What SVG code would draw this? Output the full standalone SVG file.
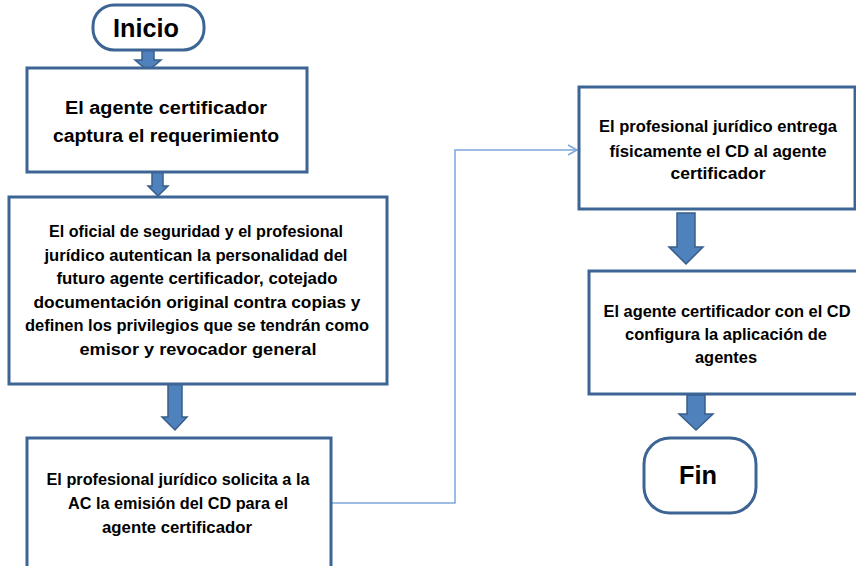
<svg xmlns="http://www.w3.org/2000/svg" width="856" height="566" viewBox="0 0 856 566">
<defs>
<style>
.box{fill:#fff;stroke:#3C6494;stroke-width:3}
.blk{fill:#4F81BD;stroke:#385D8A;stroke-width:1.5}
.t{font-family:"Liberation Sans",Arial,sans-serif;font-weight:bold;fill:#000;text-anchor:middle}
.s16{font-size:16px}
.s18{font-size:18px}
.big{font-size:26px}
.con{fill:none;stroke:#7EA6DA;stroke-width:1.5}
</style>
<marker id="open" markerWidth="12" markerHeight="12" refX="10" refY="6" orient="auto" markerUnits="userSpaceOnUse">
<path d="M1,1 L10,6 L1,11" fill="none" stroke="#7EA6DA" stroke-width="1.5"/>
</marker>
</defs>
<rect width="856" height="566" fill="#fff"/>
<g id="connectors">
<path class="con" d="M332,503 H455 V150 H577" marker-end="url(#open)"/>
<polygon class="blk" points="142,50 154,50 154,60 161,60 148,71 135,60 142,60"/>
<polygon class="blk" points="152,172 163,172 163,186 168,186 158,196 148,186 152,186"/>
<polygon class="blk" points="168,384 182,384 182,417 187,417 175,430 162,417 168,417"/>
<polygon class="blk" points="677,213 695,213 695,247 703,247 686,264 669,247 677,247"/>
<polygon class="blk" points="687,395 705,395 705,414 713,414 696,430 679,414 687,414"/>
</g>
<g id="inicio">
<rect class="box" x="93" y="5" width="111" height="45" rx="21"/>
<text class="t big" x="146" y="37" textLength="66" lengthAdjust="spacingAndGlyphs">Inicio</text>
</g>
<g id="captura">
<rect class="box" x="27" y="68" width="280" height="104"/>
<text class="t s18" x="166" y="114" textLength="202" lengthAdjust="spacingAndGlyphs">El agente certificador</text>
<text class="t s18" x="166" y="142" textLength="226" lengthAdjust="spacingAndGlyphs">captura el requerimiento</text>
</g>
<g id="autentican">
<rect class="box" x="9" y="197" width="378" height="187"/>
<text class="t s16" x="196" y="237" textLength="294" lengthAdjust="spacingAndGlyphs">El oficial de seguridad y el profesional</text>
<text class="t s16" x="196" y="261" textLength="303" lengthAdjust="spacingAndGlyphs">jurídico autentican la personalidad del</text>
<text class="t s16" x="197" y="284" textLength="281" lengthAdjust="spacingAndGlyphs">futuro agente certificador, cotejado</text>
<text class="t s16" x="197" y="308" textLength="327" lengthAdjust="spacingAndGlyphs">documentación original contra copias y</text>
<text class="t s16" x="197" y="331" textLength="344" lengthAdjust="spacingAndGlyphs">definen los privilegios que se tendrán como</text>
<text class="t s16" x="198" y="355" textLength="237" lengthAdjust="spacingAndGlyphs">emisor y revocador general</text>
</g>
<g id="solicita">
<rect class="box" x="27" y="438" width="304" height="140"/>
<text class="t s16" x="178" y="485" textLength="263" lengthAdjust="spacingAndGlyphs">El profesional jurídico solicita a la</text>
<text class="t s16" x="178" y="509" textLength="220" lengthAdjust="spacingAndGlyphs">AC la emisión del CD para el</text>
<text class="t s16" x="177" y="533" textLength="150" lengthAdjust="spacingAndGlyphs">agente certificador</text>
</g>
<g id="entrega">
<rect class="box" x="579" y="87" width="276" height="122"/>
<text class="t s16" x="718" y="132" textLength="238" lengthAdjust="spacingAndGlyphs">El profesional jurídico entrega</text>
<text class="t s16" x="718" y="157" textLength="217" lengthAdjust="spacingAndGlyphs">físicamente el CD al agente</text>
<text class="t s16" x="718" y="179" textLength="95" lengthAdjust="spacingAndGlyphs">certificador</text>
</g>
<g id="configura">
<rect class="box" x="589" y="271" width="280" height="123"/>
<text class="t s16" x="727" y="317" textLength="247" lengthAdjust="spacingAndGlyphs">El agente certificador con el CD</text>
<text class="t s16" x="726" y="340" textLength="202" lengthAdjust="spacingAndGlyphs">configura la aplicación de</text>
<text class="t s16" x="726" y="363" textLength="62" lengthAdjust="spacingAndGlyphs">agentes</text>
</g>
<g id="fin">
<rect class="box" x="644" y="438" width="112" height="75" rx="26"/>
<text class="t big" x="698" y="484" textLength="38" lengthAdjust="spacingAndGlyphs">Fin</text>
</g>
</svg>
